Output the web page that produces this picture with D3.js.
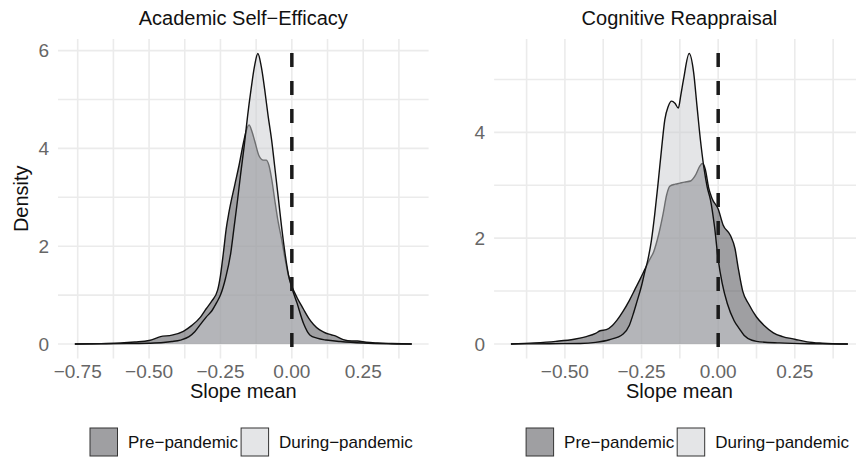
<!DOCTYPE html>
<html lang="en">
<head>
<meta charset="UTF-8">
<title>Slope mean densities</title>
<script src="https://d3js.org/d3.v7.min.js"></script>
<style>
  body { margin: 0; background: #fff; }
  text { font-family: "Liberation Sans", Arial, sans-serif; }
</style>
</head>
<body>
<svg id="chart" width="856" height="473"></svg>
<script>
// panel titles and legend groups
const panelTitles = ["Academic Self\u2212Efficacy", "Cognitive Reappraisal"];
const groups = ["Pre\u2212pandemic", "During\u2212pandemic"];

// density curves: [slope mean, density]
const asePre = [[-0.76,0],[-0.70,0.005],[-0.65,0.01],[-0.60,0.02],[-0.55,0.04],[-0.50,0.07],[-0.46,0.15],
  [-0.42,0.18],[-0.38,0.26],[-0.35,0.38],[-0.32,0.55],[-0.30,0.72],[-0.28,0.88],[-0.26,1.10],[-0.25,1.40],
  [-0.24,1.85],[-0.23,2.35],[-0.22,2.70],[-0.20,3.25],[-0.185,3.65],[-0.17,4.10],[-0.16,4.35],[-0.15,4.48],
  [-0.14,4.35],[-0.13,4.15],[-0.115,3.85],[-0.10,3.76],[-0.09,3.76],[-0.08,3.65],[-0.07,3.35],[-0.06,2.95],
  [-0.048,2.50],[-0.036,2.15],[-0.024,1.75],[-0.012,1.40],[0,1.18],[0.018,0.95],[0.04,0.72],[0.06,0.52],
  [0.076,0.40],[0.095,0.30],[0.11,0.25],[0.13,0.20],[0.15,0.17],[0.18,0.09],[0.21,0.06],[0.23,0.06],
  [0.26,0.035],[0.30,0.02],[0.35,0.01],[0.42,0]];
const aseDuring = [[-0.76,0],[-0.65,0.003],[-0.55,0.01],[-0.50,0.015],[-0.45,0.03],[-0.42,0.05],[-0.39,0.08],
  [-0.36,0.15],[-0.34,0.25],[-0.32,0.40],[-0.30,0.55],[-0.28,0.68],[-0.263,0.85],[-0.25,1.00],[-0.232,1.35],
  [-0.214,1.86],[-0.202,2.40],[-0.19,2.95],[-0.179,3.49],[-0.167,4.04],[-0.155,4.66],[-0.143,5.20],
  [-0.131,5.67],[-0.119,5.94],[-0.107,5.67],[-0.095,5.20],[-0.083,4.66],[-0.071,4.18],[-0.06,3.63],
  [-0.048,3.02],[-0.036,2.40],[-0.024,1.86],[-0.012,1.42],[0,1.15],[0.018,0.84],[0.041,0.42],[0.064,0.18],
  [0.088,0.12],[0.12,0.08],[0.17,0.05],[0.25,0.02],[0.33,0.005],[0.42,0]];
const crPre = [[-0.676,0],[-0.60,0.02],[-0.53,0.05],[-0.47,0.09],[-0.43,0.14],[-0.40,0.20],[-0.385,0.25],
  [-0.365,0.27],[-0.345,0.35],[-0.33,0.45],[-0.31,0.62],[-0.29,0.82],[-0.27,1.05],[-0.255,1.22],[-0.24,1.40],
  [-0.225,1.58],[-0.21,1.75],[-0.195,2.05],[-0.18,2.45],[-0.168,2.82],[-0.158,2.98],[-0.14,3.02],
  [-0.125,3.04],[-0.11,3.06],[-0.09,3.08],[-0.075,3.18],[-0.06,3.36],[-0.052,3.41],[-0.042,3.30],
  [-0.031,2.95],[-0.02,2.75],[0,2.55],[0.016,2.25],[0.04,2.05],[0.055,1.80],[0.065,1.45],[0.08,1.00],
  [0.10,0.75],[0.125,0.51],[0.15,0.35],[0.18,0.21],[0.21,0.14],[0.25,0.09],[0.29,0.04],[0.34,0.015],[0.423,0]];
const crDuring = [[-0.676,0],[-0.55,0.005],[-0.45,0.01],[-0.40,0.03],[-0.355,0.08],[-0.31,0.19],[-0.29,0.35],
  [-0.278,0.55],[-0.265,0.80],[-0.25,1.10],[-0.24,1.35],[-0.229,1.60],[-0.218,1.95],[-0.207,2.45],
  [-0.196,3.04],[-0.185,3.67],[-0.174,4.24],[-0.163,4.49],[-0.152,4.59],[-0.141,4.55],[-0.130,4.46],
  [-0.122,4.70],[-0.113,5.00],[-0.0946,5.49],[-0.08,5.13],[-0.069,4.49],[-0.058,3.86],[-0.047,3.35],
  [-0.036,2.97],[-0.025,2.72],[-0.012,2.22],[0,1.60],[0.013,1.15],[0.03,0.76],[0.052,0.44],[0.07,0.28],
  [0.085,0.16],[0.11,0.07],[0.125,0.05],[0.2,0.02],[0.3,0.005],[0.423,0]];

// axis ticks
const aseXTicks = [-0.75, -0.5, -0.25, 0, 0.25];
const aseYTicks = [0, 2, 4, 6];
const crXTicks = [-0.5, -0.25, 0, 0.25];
const crYTicks = [0, 2, 4];
const refLine = 0;

const fills = ["#3f4045", "#cacbd0"];

const panels = [
  { title: panelTitles[0], series: [asePre, aseDuring], xTicks: aseXTicks, yTicks: aseYTicks, left: 58, yLabel: "Density" },
  { title: panelTitles[1], series: [crPre, crDuring], xTicks: crXTicks, yTicks: crYTicks, left: 494.1, yLabel: null }
];

const svg = d3.select("#chart");
const pw = 370.6, panelTop = 39, panelBottom = 358.5;

// expand a domain by 5% on each side, like ggplot
function expand(lo, hi) {
  const pad = (hi - lo) * 0.05;
  return [lo - pad, hi + pad];
}

// minor grid: halfway between majors, one step past each end
function minors(ticks) {
  const step = ticks[1] - ticks[0];
  const out = [];
  for (let v = ticks[0] - step / 2; v <= ticks[ticks.length - 1] + step; v += step) out.push(v);
  return out;
}

panels.forEach(p => {
  const all = p.series.flat();
  const x = d3.scaleLinear()
    .domain(expand(d3.min(all, d => d[0]), d3.max(all, d => d[0])))
    .range([p.left, p.left + pw]);
  const y = d3.scaleLinear()
    .domain(expand(0, d3.max(all, d => d[1])))
    .range([panelBottom, panelTop]);

  const g = svg.append("g");
  const [x0, x1] = x.domain();
  const [y0, y1] = y.domain();

  // grid lines
  const inX = v => v >= x0 && v <= x1;
  const inY = v => v >= y0 && v <= y1;
  g.selectAll(".gx").data(minors(p.xTicks).filter(inX).concat(p.xTicks.filter(inX)))
    .join("line")
    .attr("x1", d => x(d)).attr("x2", d => x(d))
    .attr("y1", panelTop).attr("y2", panelBottom)
    .attr("stroke", "#ebebeb").attr("stroke-width", 1.6);
  g.selectAll(".gy").data(minors(p.yTicks).filter(inY).concat(p.yTicks))
    .join("line")
    .attr("x1", p.left).attr("x2", p.left + pw)
    .attr("y1", d => y(d)).attr("y2", d => y(d))
    .attr("stroke", "#ebebeb").attr("stroke-width", 1.6);

  // densities
  const area = d3.area().x(d => x(d[0])).y0(y(0)).y1(d => y(d[1])).curve(d3.curveMonotoneX);
  const line = d3.line().x(d => x(d[0])).y(d => y(d[1])).curve(d3.curveMonotoneX);
  p.series.forEach((s, i) => {
    g.append("path").attr("d", area(s))
      .attr("fill", fills[i]).attr("fill-opacity", 0.5);
    g.append("path").attr("d", line(s))
      .attr("fill", "none").attr("stroke", "#111").attr("stroke-width", 1.4);
  });

  // dashed reference line
  g.append("line")
    .attr("x1", x(refLine)).attr("x2", x(refLine))
    .attr("y1", panelTop).attr("y2", panelBottom)
    .attr("stroke", "#1a1a1a").attr("stroke-width", 3.5)
    .attr("stroke-dasharray", "14,14").attr("stroke-dashoffset", 14);

  // tick labels
  g.selectAll(".tx").data(p.xTicks).join("text")
    .attr("x", d => x(d)).attr("y", panelBottom + 19.5)
    .attr("text-anchor", "middle").attr("fill", "#666").attr("font-size", 19)
    .text(d3.format(".2f"));
  g.selectAll(".ty").data(p.yTicks).join("text")
    .attr("x", p.left - 9).attr("y", d => y(d))
    .attr("dy", "0.35em")
    .attr("text-anchor", "end").attr("fill", "#666").attr("font-size", 19)
    .text(d3.format("d"));

  // titles
  const cx = p.left + pw / 2;
  g.append("text").attr("x", cx).attr("y", 25)
    .attr("text-anchor", "middle").attr("font-size", 20).attr("fill", "#111")
    .text(p.title);
  g.append("text").attr("x", cx).attr("y", 398)
    .attr("text-anchor", "middle").attr("font-size", 20).attr("fill", "#111")
    .text("Slope mean");
  if (p.yLabel) {
    g.append("text")
      .attr("transform", `translate(28,${(panelTop + panelBottom) / 2}) rotate(-90)`)
      .attr("text-anchor", "middle").attr("font-size", 20).attr("fill", "#111")
      .text(p.yLabel);
  }

  // legend
  let lx = p.left + 32;
  groups.forEach((name, i) => {
    g.append("rect").attr("x", lx).attr("y", 428).attr("width", 27.5).attr("height", 28)
      .attr("fill", fills[i]).attr("fill-opacity", 0.5)
      .attr("stroke", "#333").attr("stroke-width", 1);
    const t = g.append("text").attr("x", lx + 38).attr("y", 442).attr("dy", "0.35em")
      .attr("font-size", 17).attr("fill", "#111").text(name);
    lx += 38 + t.node().getComputedTextLength() + 3;
  });
});
</script>
</body>
</html>
